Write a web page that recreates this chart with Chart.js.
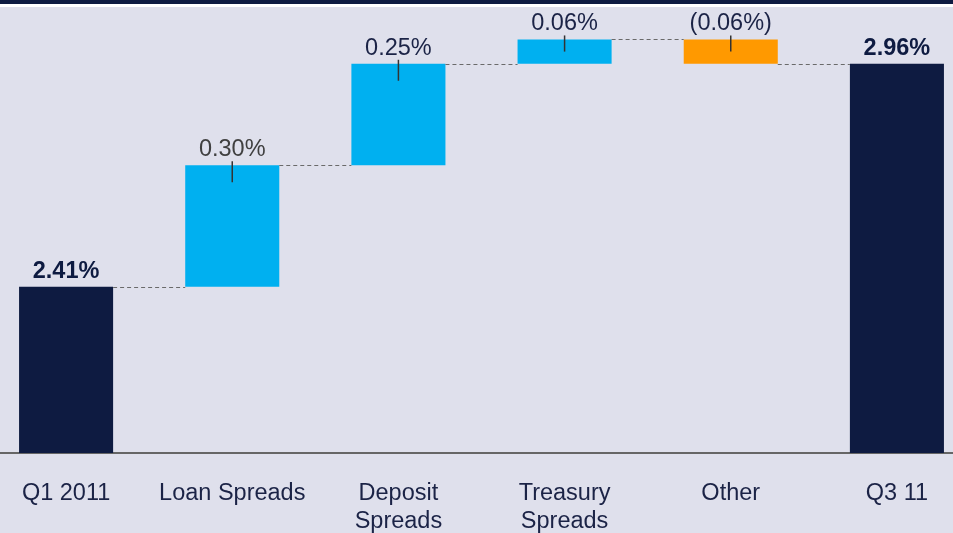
<!DOCTYPE html>
<html>
<head>
<meta charset="utf-8">
<script src="https://cdn.jsdelivr.net/npm/chart.js@4"></script>
<style>
  html, body { margin: 0; padding: 0; width: 953px; height: 533px; overflow: hidden; background: #dfe0ec; position: relative; }
  #bandTop { position: absolute; left: 0; top: 0; width: 953px; height: 4px; background: #0e1b41; }
  #bandWhite { position: absolute; left: 0; top: 4px; width: 953px; height: 3px; background: #ffffff; }
  #wrap { position: absolute; left: -17px; top: 7px; width: 997px; height: 526px; }
</style>
</head>
<body>
<div id="bandTop"></div>
<div id="bandWhite"></div>
<div id="wrap"><canvas id="c"></canvas></div>
<script>
// ---- data ----
const categories = ['Q1 2011', 'Loan Spreads', ['Deposit', 'Spreads'], ['Treasury', 'Spreads'], 'Other', 'Q3 11'];
const startValue = 2.41;
const deltas = [0.30, 0.25, 0.06, -0.06];
const endValue = 2.96;
const valueLabels = ['2.41%', '0.30%', '0.25%', '0.06%', '(0.06%)', '2.96%'];
const yMin = 2.0;
const yMax = 3.1;

// ---- colours / styles ----
const NAVY = '#0e1b41';
const CYAN = '#00b0f0';
const ORANGE = '#ff9900';
const labelColors = ['#0e1b41', '#404040', '#1b2346', '#1b2346', '#1b2346', '#0e1b41'];
const labelBold = [true, false, false, false, false, true];
const FONT = '"Liberation Sans", Arial, sans-serif';

// build floating ranges
const ranges = [[yMin, startValue]];
const colors = [NAVY];
let running = startValue;
deltas.forEach(d => {
  const next = +(running + d).toFixed(4);
  ranges.push([running, next]);
  colors.push(d >= 0 ? CYAN : ORANGE);
  running = next;
});
ranges.push([yMin, endValue]);
colors.push(NAVY);

const overlay = {
  id: 'overlay',
  afterDatasetsDraw(chart) {
    const ctx = chart.ctx;
    const meta = chart.getDatasetMeta(0);
    const ys = chart.scales.y;
    ctx.save();
    // connectors
    ctx.strokeStyle = '#6a6a6a';
    ctx.lineWidth = 1;
    ctx.setLineDash([4, 3]);
    for (let i = 0; i < ranges.length - 1; i++) {
      const a = meta.data[i], b = meta.data[i + 1];
      const level = ranges[i][1];
      const y = Math.round(ys.getPixelForValue(level)) + 0.5;
      ctx.beginPath();
      ctx.moveTo(a.x + a.width / 2, y);
      ctx.lineTo(b.x - b.width / 2, y);
      ctx.stroke();
    }
    ctx.setLineDash([]);
    // labels + leaders
    ranges.forEach((r, i) => {
      const el = meta.data[i];
      const topV = Math.max(r[0], r[1]);
      const botV = Math.min(r[0], r[1]);
      const top = ys.getPixelForValue(topV);
      const bot = ys.getPixelForValue(botV);
      ctx.font = (labelBold[i] ? 'bold ' : '') + '23.5px ' + FONT;
      ctx.fillStyle = labelColors[i];
      ctx.textAlign = 'center';
      ctx.textBaseline = 'alphabetic';
      ctx.fillText(valueLabels[i], el.x, top - 9);
      if (!labelBold[i]) {
        const h = bot - top;
        ctx.strokeStyle = '#333333';
        ctx.lineWidth = 1.5;
        ctx.beginPath();
        ctx.moveTo(el.x, top - 4);
        ctx.lineTo(el.x, top + Math.min(17, h * 0.5));
        ctx.stroke();
      }
    });
    ctx.restore();
  }
};

new Chart(document.getElementById('c'), {
  type: 'bar',
  data: {
    labels: categories,
    datasets: [{
      data: ranges,
      backgroundColor: colors,
      borderWidth: 0,
      borderSkipped: false,
      categoryPercentage: 1,
      barPercentage: 0.566
    }]
  },
  options: {
    responsive: true,
    maintainAspectRatio: false,
    animation: false,
    layout: { padding: 0 },
    plugins: { legend: { display: false }, tooltip: { enabled: false } },
    scales: {
      x: {
        grid: { display: false, drawTicks: false },
        border: { display: true, color: '#666666', width: 2 },
        ticks: { color: '#1b2346', font: { family: FONT, size: 23.5, lineHeight: 1.2 }, padding: 26, maxRotation: 0, autoSkip: false },
        afterFit(scale) { scale.height = 80; }
      },
      y: { display: false, min: yMin, max: yMax }
    }
  },
  plugins: [overlay]
});
</script>
</body>
</html>
